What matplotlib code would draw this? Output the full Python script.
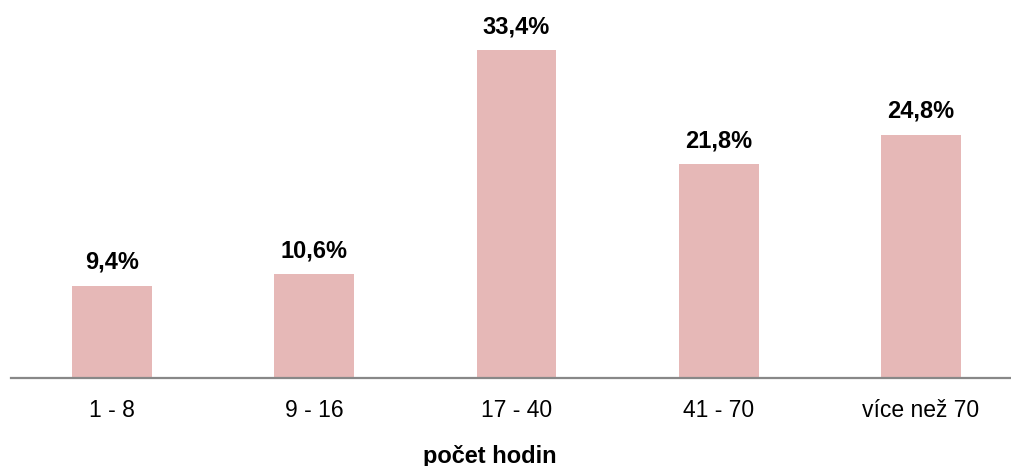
import matplotlib
matplotlib.use("Agg")
import matplotlib.pyplot as plt

categories = ["1 - 8", "9 - 16", "17 - 40", "41 - 70", "více než 70"]
values = [9.4, 10.6, 33.4, 21.8, 24.8]
labels = ["9,4%", "10,6%", "33,4%", "21,8%", "24,8%"]
xlabel = "počet hodin"

plt.rcParams['font.family'] = ['Liberation Sans', 'DejaVu Sans']

W, H = 1012, 466
fig = plt.figure(figsize=(W/100, H/100), dpi=100)
left = 11 / W
width = 1011 / W
bottom = (H - 378) / H
height = 378 / H
ax = fig.add_axes([left, bottom, width, height])

x = list(range(len(categories)))
ax.bar(x, values, width=0.395, color="#E6B8B7", zorder=2)
ax.set_xlim(-0.5, len(categories) - 0.5)
ax.set_ylim(0, 38.5)

for xi, v, lab in zip(x, values, labels):
    ax.annotate(lab, (xi, v), xytext=(0, 8.5), textcoords="offset points",
                ha="center", va="bottom", fontsize=17, fontweight="bold", color="#000000")

for s in ["top", "right", "left"]:
    ax.spines[s].set_visible(False)
ax.spines["bottom"].set_color("#888888")
ax.spines["bottom"].set_linewidth(1.6)
ax.spines["bottom"].set_zorder(3)
ax.set_yticks([])
ax.set_xticks(x)
ax.set_xticklabels(categories, fontsize=16.5)
ax.tick_params(axis="x", length=0, pad=15)

fig.text(490 / W, 1 - 456 / H, xlabel, ha="center", va="center",
         fontsize=17, fontweight="bold")

fig.savefig("out.png", dpi=100)
